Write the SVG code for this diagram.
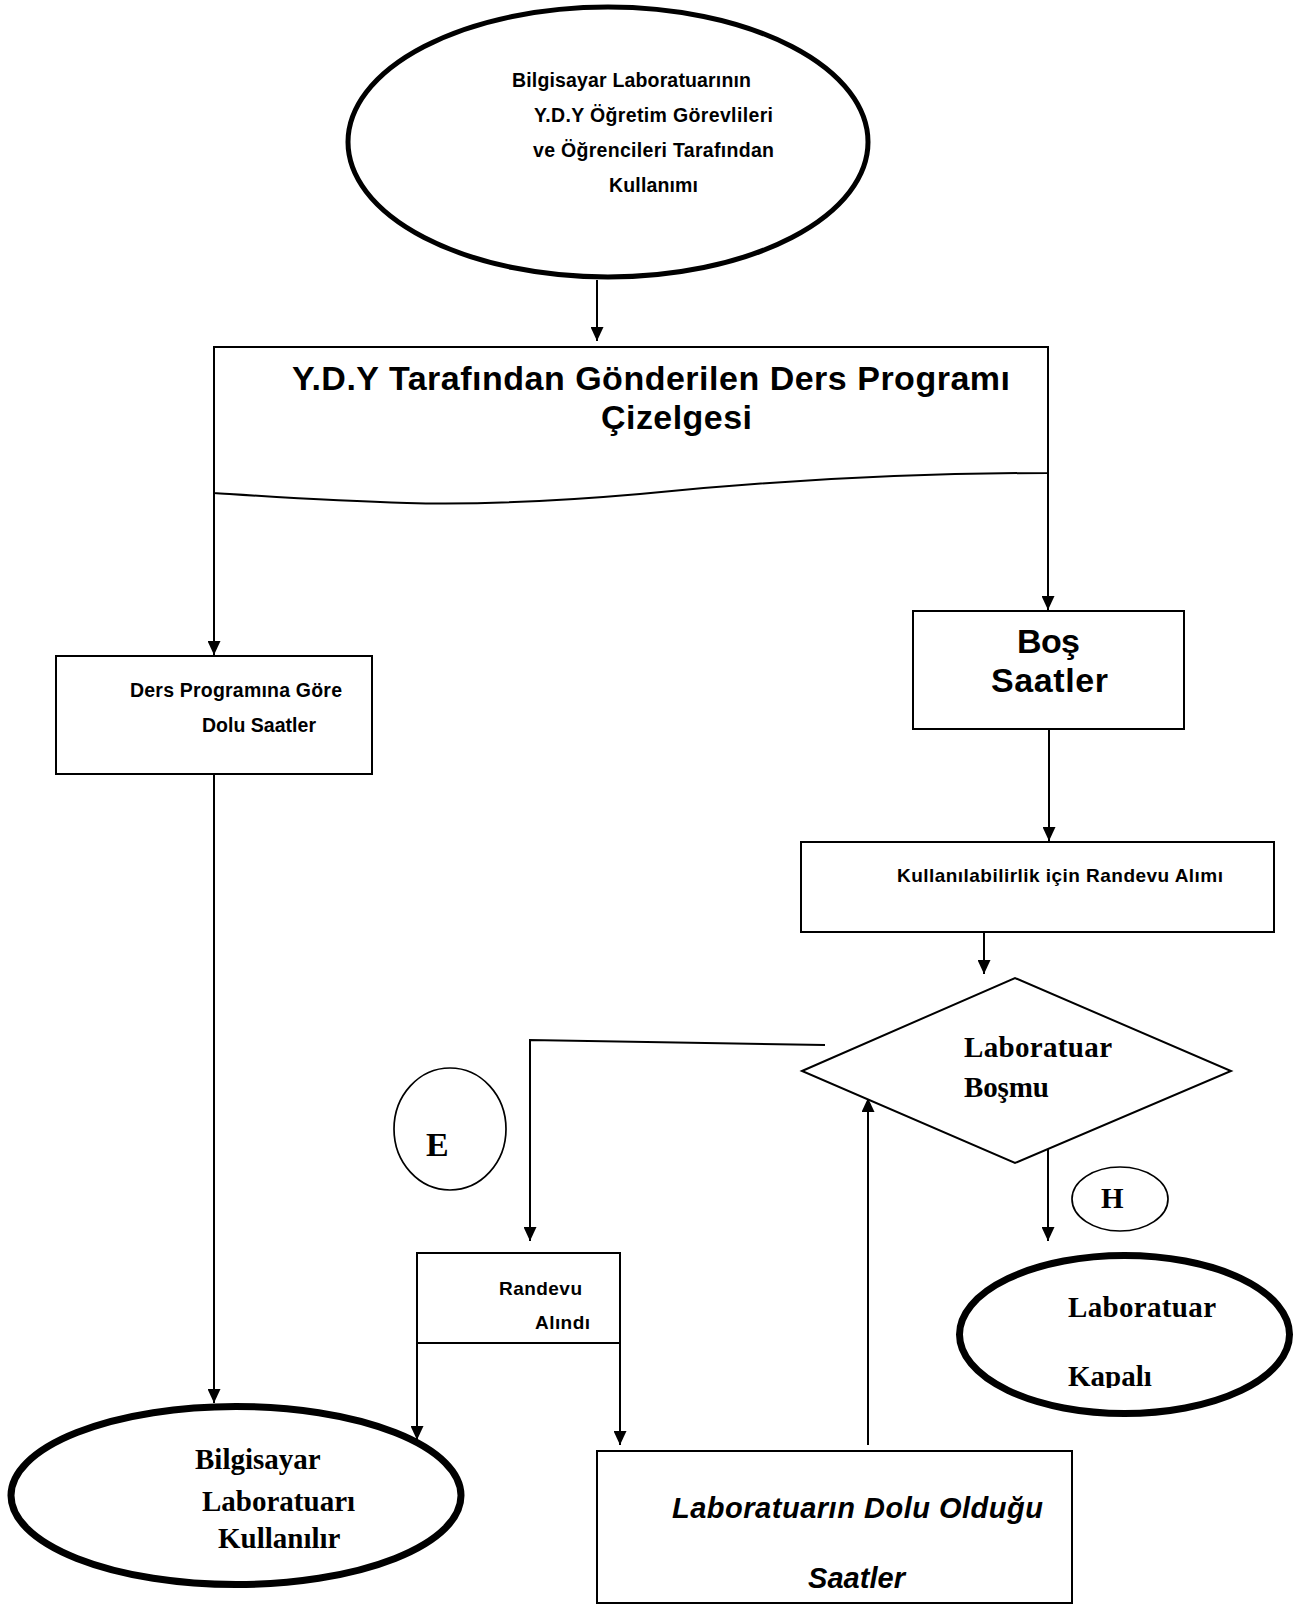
<svg xmlns="http://www.w3.org/2000/svg" width="1296" height="1604" viewBox="0 0 1296 1604">
<style>
.bg{fill:#fff}
.box{fill:#fff;stroke:#000;stroke-width:2}
.thin{fill:#fff;stroke:#000;stroke-width:1.7}
.el5{fill:#fff;stroke:#000;stroke-width:5}
.el7{fill:#fff;stroke:#000;stroke-width:7}
.con{fill:none;stroke:#000;stroke-width:2}
.sans{font-family:"Liberation Sans",Arial,sans-serif;font-weight:bold;fill:#000}
.serif{font-family:"Liberation Serif","Times New Roman",serif;font-weight:bold;fill:#000}
.s19{font-size:19.5px}
.s18{font-size:19px}
.s34{font-size:34px}
.s29{font-size:29px}
.it{font-style:italic}
</style>
<defs>
<marker id="ah" markerUnits="userSpaceOnUse" markerWidth="14" markerHeight="13" refX="14" refY="6.5" orient="auto">
<path d="M0,0 L14,6.5 L0,13 z" fill="#000"/>
</marker>
<clipPath id="clipK"><rect x="900" y="1240" width="396" height="148"/></clipPath>
</defs>
<rect class="bg" x="0" y="0" width="1296" height="1604"/>

<g id="connectors">
<line class="con" x1="597" y1="280" x2="597" y2="341" marker-end="url(#ah)"/>
<line class="con" x1="214" y1="493" x2="214" y2="655" marker-end="url(#ah)"/>
<line class="con" x1="1048" y1="473" x2="1048" y2="610" marker-end="url(#ah)"/>
<line class="con" x1="214" y1="774" x2="214" y2="1403" marker-end="url(#ah)"/>
<line class="con" x1="1049" y1="729" x2="1049" y2="841" marker-end="url(#ah)"/>
<line class="con" x1="984" y1="929" x2="984" y2="974" marker-end="url(#ah)"/>
<polyline class="con" points="825,1045 530,1040 530,1241" marker-end="url(#ah)"/>
<line class="con" x1="1048" y1="1149" x2="1048" y2="1241" marker-end="url(#ah)"/>
<line class="con" x1="868" y1="1445" x2="868" y2="1098" marker-end="url(#ah)"/>
<line class="con" x1="417" y1="1343" x2="417" y2="1440" marker-end="url(#ah)"/>
<line class="con" x1="620" y1="1343" x2="620" y2="1445" marker-end="url(#ah)"/>
</g>

<g id="n-start">
<ellipse class="el5" cx="608" cy="142" rx="260" ry="135"/>
<text class="sans s19" x="512" y="87" textLength="239">Bilgisayar Laboratuarının</text>
<text class="sans s19" x="534" y="122" textLength="239">Y.D.Y Öğretim Görevlileri</text>
<text class="sans s19" x="533" y="157" textLength="241">ve Öğrencileri Tarafından</text>
<text class="sans s19" x="609" y="192" textLength="89">Kullanımı</text>
</g>

<g id="n-doc">
<path class="box" d="M214,493 V347 H1048 V473 C900,473 760,482 640,494 C560,501 480,505 407,503 C330,501 260,496 214,493 Z"/>
<text class="sans s34" x="292" y="390" textLength="718">Y.D.Y Tarafından Gönderilen Ders Programı</text>
<text class="sans s34" x="601" y="429" textLength="151">Çizelgesi</text>
</g>

<g id="n-dolu">
<rect class="box" x="56" y="656" width="316" height="118"/>
<text class="sans s19" x="130" y="697" textLength="212">Ders Programına Göre</text>
<text class="sans s19" x="202" y="732" textLength="114">Dolu Saatler</text>
</g>

<g id="n-bos">
<rect class="box" x="913" y="611" width="271" height="118"/>
<text class="sans s34" x="1017" y="653" textLength="63">Boş</text>
<text class="sans s34" x="991" y="692" textLength="117">Saatler</text>
</g>

<g id="n-randevu-alimi">
<rect class="box" x="801" y="842" width="473" height="90"/>
<text class="sans s18" x="897" y="882" textLength="326">Kullanılabilirlik için Randevu Alımı</text>
</g>

<g id="n-decision">
<polygon class="box" points="802,1071 1015,978 1231,1071 1015,1163"/>
<text class="serif s29" x="964" y="1057" textLength="148">Laboratuar</text>
<text class="serif s29" x="964" y="1097" textLength="85">Boşmu</text>
</g>

<g id="n-e">
<ellipse class="thin" cx="450" cy="1129" rx="56" ry="61"/>
<text class="serif s34" x="426" y="1156">E</text>
</g>

<g id="n-h">
<ellipse class="thin" cx="1120" cy="1199" rx="48" ry="32"/>
<text class="serif s29" x="1101" y="1208">H</text>
</g>

<g id="n-randevu">
<rect class="box" x="417" y="1253" width="203" height="90"/>
<text class="sans s18" x="499" y="1295" textLength="83">Randevu</text>
<text class="sans s18" x="535" y="1329" textLength="55">Alındı</text>
</g>

<g id="n-kapali">
<ellipse class="el7" cx="1124.5" cy="1334.5" rx="165" ry="79"/>
<text class="serif s29" x="1068" y="1317" textLength="148">Laboratuar</text>
<text class="serif s29" x="1068" y="1386" clip-path="url(#clipK)">Kapalı</text>
</g>

<g id="n-kullanilir">
<ellipse class="el7" cx="236" cy="1495.5" rx="225" ry="89"/>
<text class="serif s29" x="195" y="1469">Bilgisayar</text>
<text class="serif s29" x="202" y="1511">Laboratuarı</text>
<text class="serif s29" x="218" y="1548">Kullanılır</text>
</g>

<g id="n-dolu-saatler">
<rect class="box" x="597" y="1451" width="475" height="152"/>
<text class="sans s29 it" x="672" y="1518" textLength="371">Laboratuarın Dolu Olduğu</text>
<text class="sans s29 it" x="808" y="1588" textLength="97">Saatler</text>
</g>
</svg>
